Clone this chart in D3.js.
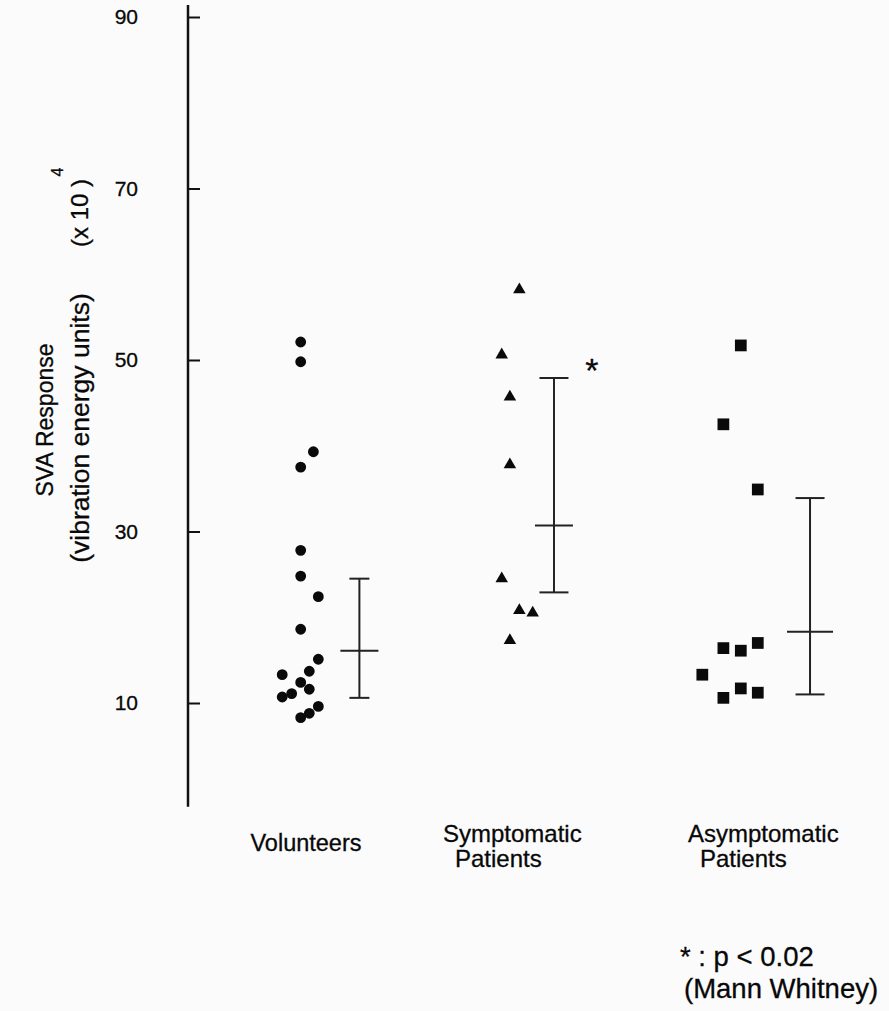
<!DOCTYPE html>
<html>
<head>
<meta charset="utf-8">
<script src="https://cdn.jsdelivr.net/npm/d3@7"></script>
<style>
  body { margin: 0; background: #fbfbfb; }
  svg { display: block; font-family: "Liberation Sans", Arial, Helvetica, sans-serif; }
  svg text { fill: #080808; stroke: #080808; stroke-width: 0.3px; }
</style>
</head>
<body>
<div class="chart"></div>
<script>
// values (units of 10^4)
const groups = ["Volunteers", "Symptomatic Patients", "Asymptomatic Patients"];
const yTicks = [10, 30, 50, 70, 90];

const volunteerValues = [52.1, 49.8, 39.3, 37.5, 27.8, 24.8, 22.4, 18.6, 15.1,
  13.7, 13.3, 12.4, 11.6, 11.1, 10.7, 9.6, 8.8, 8.3];
const volunteerJitter = [0, 0, 0.059, 0, 0, 0, 0.082, 0, 0.082,
  0.04, -0.086, 0, 0.04, -0.042, -0.086, 0.082, 0.04, 0];

const symptomaticValues = [58.2, 50.6, 45.7, 37.8, 24.5, 20.8, 20.5, 17.3];
const symptomaticJitter = [0.017, -0.065, -0.027, -0.027, -0.065, 0.017, 0.079, -0.027];

const asymptomaticValues = [51.7, 42.5, 34.9, 16.4, 16.1, 17.0, 13.3, 11.7, 11.2, 10.6];
const asymptomaticJitter = [0.047, -0.034, 0.126, -0.034, 0.047, 0.126, -0.132, 0.047, 0.126, -0.034];

// error bars: low / middle / high and where each bar sits
const barLow = [10.6, 22.9, 11.0];
const barMid = [16.1, 30.7, 18.3];
const barHigh = [24.5, 47.9, 33.9];
const barPos = [1.273, 2.178, 3.369];

let svgWidth = 889;
let svgHeight = 1011;

let svg = d3.select(".chart")
  .append("svg")
  .attr("width", svgWidth)
  .attr("height", svgHeight);

svg.append("rect")
  .attr("width", svgWidth)
  .attr("height", svgHeight)
  .attr("fill", "#fbfbfb");

let xScale = d3.scaleLinear()
  .domain([1, 3])
  .range([300.7, 730.7]);

let yScale = d3.scaleLinear()
  .domain([10, 90])
  .range([703, 17]);

let axisX = 188;

// y axis: ticks point inward, labels sit well to the left
let leftAxis = d3.axisLeft(yScale)
  .tickValues(yTicks)
  .tickSizeInner(-12)
  .tickSizeOuter(0)
  .tickPadding(50);

let yAxis = svg.append("g")
  .attr("transform", `translate(${axisX}, 0)`)
  .call(leftAxis);

yAxis.select(".domain").remove();
yAxis.selectAll(".tick line")
  .attr("stroke", "#111")
  .attr("stroke-width", 2);
yAxis.selectAll(".tick text")
  .attr("font-size", 21);

svg.append("line")
  .attr("x1", axisX)
  .attr("x2", axisX)
  .attr("y1", yScale(91.4))
  .attr("y2", yScale(-2.1))
  .attr("stroke", "#111")
  .attr("stroke-width", 2.5);

// points
let series = [
  { values: volunteerValues, jitter: volunteerJitter, type: d3.symbolCircle, size: 92 },
  { values: symptomaticValues, jitter: symptomaticJitter, type: d3.symbolTriangle, size: 68 },
  { values: asymptomaticValues, jitter: asymptomaticJitter, type: d3.symbolSquare, size: 138 }
];

series.forEach(function(s, i) {
  svg.append("g")
    .selectAll("path")
    .data(s.values)
    .enter()
    .append("path")
    .attr("transform", (d, j) => `translate(${xScale(i + 1 + s.jitter[j])}, ${yScale(d)})`)
    .attr("d", d3.symbol().type(s.type).size(s.size))
    .attr("fill", "#0a0a0a");
});

// error bars
let capW = [20, 29, 29];
let midW = [38, 38, 46];

let bars = svg.append("g")
  .attr("stroke", "#222")
  .attr("stroke-width", 2);

barPos.forEach(function(p, i) {
  let cx = xScale(p);
  bars.append("line")
    .attr("x1", cx).attr("x2", cx)
    .attr("y1", yScale(barHigh[i])).attr("y2", yScale(barLow[i]));
  bars.append("line")
    .attr("x1", cx - capW[i] / 2).attr("x2", cx + capW[i] / 2)
    .attr("y1", yScale(barHigh[i])).attr("y2", yScale(barHigh[i]));
  bars.append("line")
    .attr("x1", cx - capW[i] / 2).attr("x2", cx + capW[i] / 2)
    .attr("y1", yScale(barLow[i])).attr("y2", yScale(barLow[i]));
  bars.append("line")
    .attr("x1", cx - midW[i] / 2).attr("x2", cx + midW[i] / 2)
    .attr("y1", yScale(barMid[i])).attr("y2", yScale(barMid[i]));
});

// significance mark
svg.append("text")
  .attr("x", xScale(barPos[1]) + 38)
  .attr("y", yScale(barHigh[1]) + 4)
  .attr("text-anchor", "middle")
  .attr("font-size", 34)
  .text("*");

// category labels
svg.append("text")
  .attr("x", 306)
  .attr("y", 851)
  .attr("text-anchor", "middle")
  .attr("font-size", 23.5)
  .text(groups[0]);

[[443, groups[1]], [688, groups[2]]].forEach(function(l) {
  let words = l[1].split(" ");
  let t = svg.append("text")
    .attr("font-size", 24);
  t.append("tspan").attr("x", l[0]).attr("y", 842).text(words[0]);
  t.append("tspan").attr("x", l[0] + 12).attr("y", 867).text(words[1]);
});

// y axis title
let yTitle = svg.append("g")
  .attr("text-anchor", "middle");

yTitle.append("text")
  .attr("transform", "translate(45, 420) rotate(-90)")
  .attr("dy", "0.35em")
  .attr("font-size", 23)
  .text("SVA Response");

yTitle.append("text")
  .attr("transform", "translate(80, 428) rotate(-90)")
  .attr("dy", "0.35em")
  .attr("font-size", 26.5)
  .text("(vibration energy units)");

yTitle.append("text")
  .attr("transform", "translate(80, 213) rotate(-90)")
  .attr("dy", "0.35em")
  .attr("font-size", 24)
  .text("(x 10 )");

yTitle.append("text")
  .attr("transform", "translate(57, 172) rotate(-90)")
  .attr("dy", "0.35em")
  .attr("font-size", 16)
  .text("4");

// footnote
let note = svg.append("text")
  .attr("font-size", 27.5);

note.append("tspan").attr("x", 680).attr("y", 966).text("* : p < 0.02");
note.append("tspan").attr("x", 684).attr("y", 998).text("(Mann Whitney)");
</script>
</body>
</html>
